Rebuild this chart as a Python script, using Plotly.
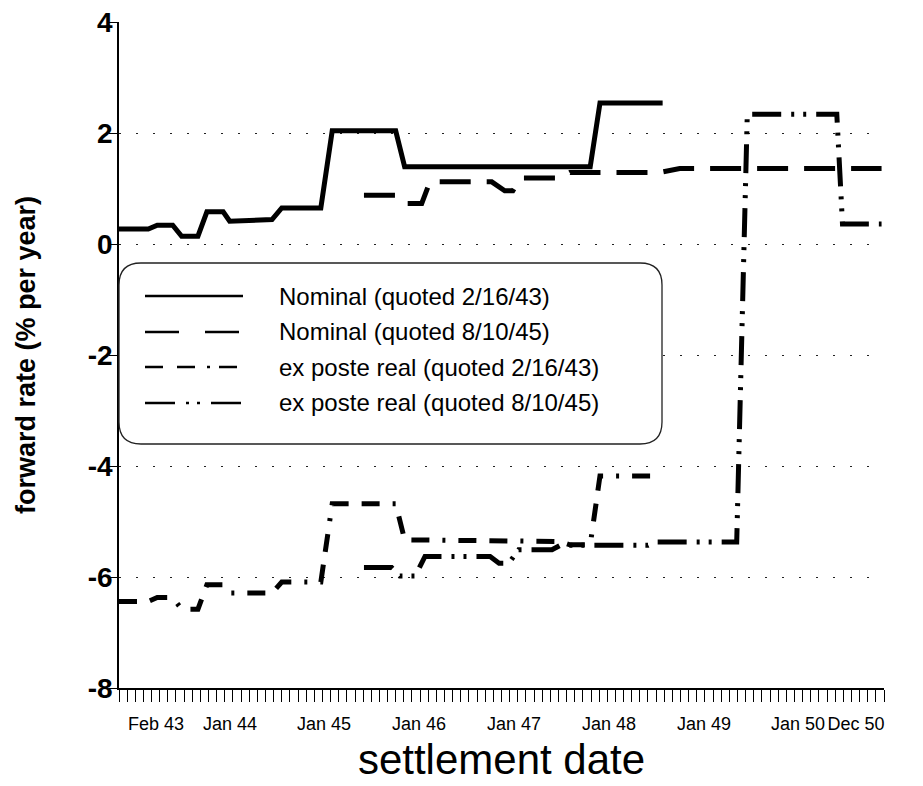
import plotly.graph_objects as go

# x = months after Feb 1943 (settlement month index), y = forward rate (% per year)
nom_430216_x = [0, 3.6, 4.7, 6.6, 7.7, 9.7, 10.8, 12.8, 13.6, 18.8, 20.0, 24.8, 26.2, 34.0, 35.1, 57.9, 59.1, 66.8]
nom_430216_y = [0.27, 0.27, 0.34, 0.34, 0.14, 0.14, 0.58, 0.58, 0.41, 0.44, 0.65, 0.65, 2.04, 2.04, 1.39, 1.39, 2.54, 2.54]

nom_450810_x = [30.1, 34.0, 35.1, 37.2, 38.2, 45.8, 47.4, 48.4, 49.4, 54.2, 55.4, 66.5, 68.9, 93.7]
nom_450810_y = [0.88, 0.88, 0.73, 0.73, 1.12, 1.12, 0.96, 0.96, 1.19, 1.19, 1.29, 1.29, 1.36, 1.36]

real_430216_x = [0, 3.6, 4.7, 6.6, 7.7, 9.7, 10.8, 12.8, 13.6, 18.8, 20.0, 24.8, 26.2, 34.0, 35.1, 54.2, 55.4, 57.9, 59.1, 66.8]
real_430216_y = [-6.44, -6.44, -6.37, -6.37, -6.58, -6.58, -6.14, -6.14, -6.29, -6.29, -6.09, -6.09, -4.68, -4.68,
                 -5.33, -5.36, -5.42, -5.42, -4.18, -4.18]

real_450810_x = [30.1, 33.5, 34.5, 36.4, 37.6, 45.6, 46.7, 47.9, 49.1, 53.2, 54.2, 65.0, 65.9, 75.9, 77.2, 88.2, 88.9, 93.7]
real_450810_y = [-5.83, -5.83, -5.98, -5.98, -5.63, -5.63, -5.75, -5.75, -5.51, -5.51, -5.43, -5.43, -5.37, -5.37,
                 2.34, 2.34, 0.36, 0.36]

series_names = ["Nominal (quoted 2/16/43)", "Nominal (quoted 8/10/45)",
                "ex poste real (quoted 2/16/43)", "ex poste real (quoted 8/10/45)"]

x_tick_labels = ["Feb 43", "Jan 44", "Jan 45", "Jan 46", "Jan 47", "Jan 48", "Jan 49", "Jan 50", "Dec 50"]
x_tick_pos = [4.55, 13.64, 25.19, 36.86, 48.54, 60.21, 71.89, 83.44, 90.56]
y_tick_vals = [-8, -6, -4, -2, 0, 2, 4]
y_tick_labels = ["-8", "-6", "-4", "-2", "0", "2", "4"]

# ---- styling / layout ----
W, H = 923, 786
PL, PR, PT, PB = 119, 884, 22, 688
FONT = "Liberation Sans, Arial, sans-serif"
dashes = ["solid", "31px,16px", "18px,13px,18px,13px,3px,13px", "29px,10px,3px,9px,3px,10px"]
legend_dashes = ["solid", "34px,26px", "18px,14px,18px,12px,3px,9px", "30px,11px,3px,8px,3px,11px"]

fig = go.Figure()
data = [(nom_430216_x, nom_430216_y), (nom_450810_x, nom_450810_y),
        (real_430216_x, real_430216_y), (real_450810_x, real_450810_y)]
for (xs, ys), name, dsh in zip(data, series_names, dashes):
    fig.add_trace(go.Scatter(x=xs, y=ys, mode="lines", name=name, showlegend=False,
                             line=dict(color="black", width=5, dash=dsh), hoverinfo="skip"))


def px_x(px):
    return (px - PL) / (PR - PL)


def px_y(py):
    return (PB - py) / (PB - PT)


shapes = []
# rounded legend box
bx0, bx1, by0, by1, r = 119, 662, 263, 444, 22
path = (f"M {px_x(bx0 + r)},{px_y(by0)} L {px_x(bx1 - r)},{px_y(by0)} "
        f"Q {px_x(bx1)},{px_y(by0)} {px_x(bx1)},{px_y(by0 + r)} "
        f"L {px_x(bx1)},{px_y(by1 - r)} Q {px_x(bx1)},{px_y(by1)} {px_x(bx1 - r)},{px_y(by1)} "
        f"L {px_x(bx0 + r)},{px_y(by1)} Q {px_x(bx0)},{px_y(by1)} {px_x(bx0)},{px_y(by1 - r)} "
        f"L {px_x(bx0)},{px_y(by0 + r)} Q {px_x(bx0)},{px_y(by0)} {px_x(bx0 + r)},{px_y(by0)} Z")
shapes.append(dict(type="path", path=path, xref="paper", yref="paper", layer="above",
                   fillcolor="white", line=dict(color="#222", width=1.3)))

annotations = []
rows = [296, 332, 367, 403]
for name, dsh, ry in zip(series_names, legend_dashes, rows):
    shapes.append(dict(type="line", xref="paper", yref="paper", layer="above",
                       x0=px_x(145), x1=px_x(243), y0=px_y(ry), y1=px_y(ry),
                       line=dict(color="black", width=2.5, dash=dsh)))
    annotations.append(dict(xref="paper", yref="paper", x=px_x(277), y=px_y(ry), text=name,
                            showarrow=False, xanchor="left", yanchor="middle",
                            font=dict(family=FONT, size=24, color="black")))

fig.update_layout(
    width=W, height=H,
    margin=dict(l=PL, r=W - PR, t=PT, b=H - PB, pad=0),
    paper_bgcolor="white", plot_bgcolor="white",
    font=dict(family=FONT, color="black"),
    shapes=shapes, annotations=annotations,
    xaxis=dict(range=[0, 94], showline=True, linecolor="black", linewidth=1.5,
               showgrid=False, zeroline=False, automargin=False,
               tickmode="array", tickvals=x_tick_pos, ticktext=x_tick_labels, ticks="", tickangle=0,
               tickfont=dict(family=FONT, size=18, color="black"), ticklabelstandoff=19,
               minor=dict(ticks="outside", ticklen=12, tickmode="linear", tick0=0, dtick=1,
                          tickcolor="black", tickwidth=1, showgrid=False),
               title=dict(text="settlement date", font=dict(family=FONT, size=42, color="black"), standoff=11)),
    yaxis=dict(range=[-8, 4], tickmode="array", tickvals=y_tick_vals, ticktext=y_tick_labels,
               showline=True, linecolor="black", automargin=False,
               linewidth=1.5, ticks="outside", ticklen=8, tickcolor="black", tickwidth=1,
               ticklabelstandoff=-9,
               showgrid=True, gridcolor="#222", gridwidth=1, griddash="2px,15px", zeroline=False,
               tickfont=dict(family=FONT, size=28, color="black", weight="bold"),
               title=dict(text="forward rate (% per year)", font=dict(family=FONT, size=27, color="black", weight="bold"),
                          standoff=44)),
)

fig.write_html("out.html")
